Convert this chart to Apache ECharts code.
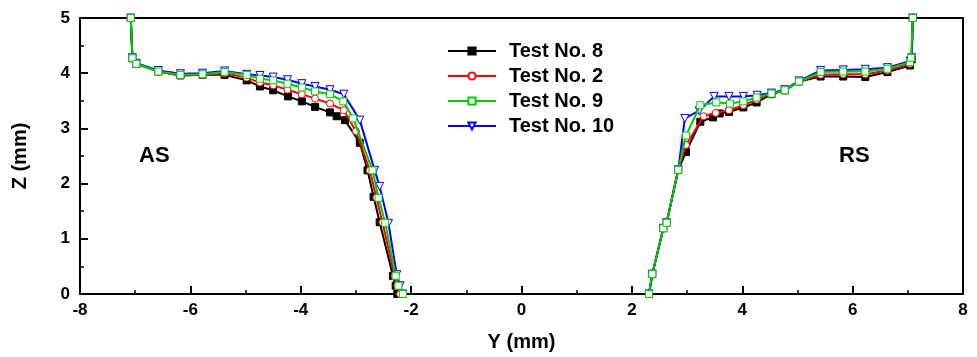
<!DOCTYPE html>
<html><head><meta charset="utf-8">
<script src="https://cdn.jsdelivr.net/npm/echarts@6/dist/echarts.min.js"></script>
<style>html,body{margin:0;padding:0;background:#fff}#c{width:977px;height:357px}</style>
</head><body><div id="c"></div>
<script>
// Test No. 8 (black)
const test8Y = [-7.08,-7.05,-6.98,-6.58,-6.18,-5.78,-5.38,-4.98,-4.74,-4.50,-4.23,-3.98,-3.74,-3.47,-3.35,-3.20,-2.93,-2.79,-2.68,-2.57,-2.33,-2.28,-2.25,
  null,
  2.31,2.37,2.57,2.63,2.84,2.98,3.24,3.47,3.59,3.76,4.02,4.26,4.53,4.77,5.03,5.42,5.83,6.23,6.63,7.04,7.07,7.09];
const test8Z = [5.0,4.27,4.17,4.03,3.96,3.97,3.97,3.87,3.76,3.69,3.58,3.49,3.39,3.29,3.22,3.15,2.74,2.24,1.76,1.30,0.33,0.15,0,
  null,
  0,0.36,1.19,1.29,2.25,2.57,3.12,3.20,3.27,3.30,3.38,3.47,3.62,3.69,3.85,3.94,3.94,3.93,4.02,4.14,4.25,5.0];
// Test No. 2 (red)
const test2Y = [-7.08,-7.05,-6.98,-6.58,-6.18,-5.78,-5.38,-4.98,-4.74,-4.50,-4.24,-3.98,-3.74,-3.47,-3.22,-3.00,-2.75,-2.63,-2.52,-2.30,-2.25,-2.20,
  null,
  2.31,2.37,2.57,2.63,2.84,2.98,3.30,3.52,3.76,4.02,4.26,4.53,4.77,5.03,5.42,5.83,6.23,6.63,7.04,7.07,7.09];
const test2Z = [5.0,4.27,4.17,4.03,3.96,3.97,4.00,3.92,3.83,3.78,3.70,3.62,3.54,3.45,3.33,2.95,2.24,1.75,1.30,0.33,0.15,0,
  null,
  0,0.36,1.19,1.29,2.25,2.70,3.22,3.28,3.33,3.42,3.52,3.63,3.69,3.85,3.97,3.98,3.98,4.05,4.17,4.27,5.0];
// Test No. 9 (green)
const test9Y = [-7.08,-7.05,-6.98,-6.58,-6.18,-5.78,-5.38,-4.98,-4.74,-4.50,-4.24,-3.98,-3.74,-3.47,-3.23,-3.05,-2.70,-2.59,-2.47,-2.28,-2.23,-2.15,
  null,
  2.31,2.37,2.57,2.63,2.84,2.98,3.24,3.53,3.78,4.02,4.26,4.53,4.77,5.03,5.42,5.83,6.23,6.63,7.04,7.06,7.09];
const test9Z = [5.0,4.27,4.17,4.03,3.97,3.98,4.02,3.97,3.90,3.87,3.81,3.74,3.67,3.62,3.49,3.18,2.24,1.74,1.29,0.33,0.15,0,
  null,
  0,0.36,1.19,1.29,2.25,2.87,3.42,3.47,3.45,3.49,3.56,3.63,3.69,3.85,4.02,4.03,4.03,4.08,4.20,4.28,5.0];
// Test No. 10 (blue)
const test10Y = [-7.08,-7.05,-6.98,-6.58,-6.18,-5.78,-5.38,-4.98,-4.74,-4.50,-4.24,-3.98,-3.74,-3.47,-3.22,-2.93,-2.66,-2.57,-2.41,-2.26,-2.20,-2.15,
  null,
  2.31,2.37,2.57,2.63,2.84,2.96,3.22,3.49,3.76,4.02,4.27,4.53,4.77,5.03,5.42,5.83,6.23,6.63,7.04,7.07,7.09];
const test10Z = [5.0,4.28,4.18,4.05,3.99,4.00,4.04,3.98,3.96,3.93,3.88,3.81,3.76,3.70,3.62,3.15,2.24,1.95,1.28,0.35,0.15,0,
  null,
  0,0.36,1.19,1.29,2.25,3.18,3.32,3.58,3.58,3.58,3.60,3.64,3.70,3.86,4.05,4.06,4.07,4.10,4.22,4.28,5.0];

const xTicks = [-8,-6,-4,-2,0,2,4,6,8];
const yTicks = [0,1,2,3,4,5];
const seriesNames = ['Test No. 8','Test No. 2','Test No. 9','Test No. 10'];

function zip(a,b){return a.map((v,i)=> v===null ? ['-','-'] : [v,b[i]]);}

const FONT = 'Liberation Sans, Arial, sans-serif';
const chart = echarts.init(document.getElementById('c'));
function mk(name, ys, zs, color, symbol, fill, z){
  return {name, type:'line', data: zip(ys,zs), connectNulls:false,
    symbol, symbolSize: symbol==='triangle'?8:7, symbolRotate: symbol==='triangle'?180:0,
    lineStyle:{color, width:2}, itemStyle:{color:fill, borderColor:color, borderWidth:1},
    color, z, animation:false};
}
chart.setOption({
  animation:false,
  grid:{left:80, right:14, top:18, bottom:61, show:true, borderColor:'#000', borderWidth:2},
  xAxis:{type:'value', min:-8, max:8, interval:2,
    name:'Y (mm)', nameLocation:'middle', nameGap:38,
    nameTextStyle:{fontFamily:FONT, fontWeight:'bold', fontSize:20, color:'#000'},
    axisLine:{onZero:false, lineStyle:{color:'#000', width:2}},
    axisTick:{inside:true, length:8, lineStyle:{color:'#000', width:2}},
    minorTick:{show:true, splitNumber:2, length:4, lineStyle:{color:'#000', width:1.5}},
    splitLine:{show:false},
    axisLabel:{fontFamily:FONT, fontWeight:'bold', fontSize:17, color:'#000', margin:8,
      formatter:v=> xTicks.includes(v) ? String(v) : ''}},
  yAxis:{type:'value', min:0, max:5, interval:1,
    name:'Z (mm)', nameLocation:'middle', nameGap:50, nameRotate:90,
    nameTextStyle:{fontFamily:FONT, fontWeight:'bold', fontSize:20, color:'#000'},
    axisLine:{onZero:false, lineStyle:{color:'#000', width:2}},
    axisTick:{inside:true, length:8, lineStyle:{color:'#000', width:2}},
    minorTick:{show:true, splitNumber:2, length:4, lineStyle:{color:'#000', width:1.5}},
    splitLine:{show:false},
    axisLabel:{fontFamily:FONT, fontWeight:'bold', fontSize:17, color:'#000', margin:10,
      formatter:v=> yTicks.includes(v) ? String(v) : ''}},
  legend:{orient:'vertical', left:442, top:36, itemWidth:48, itemHeight:9, itemGap:5,
    data:seriesNames,
    textStyle:{fontFamily:FONT, fontWeight:'bold', fontSize:20, color:'#000', lineHeight:20, padding:[0,0,0,8]}},
  graphic:[
    {type:'text', left:139, top:145, style:{text:'AS', font:'bold 22px '+FONT, fill:'#000'}},
    {type:'text', left:839, top:145, style:{text:'RS', font:'bold 22px '+FONT, fill:'#000'}}
  ],
  series:[
    mk('Test No. 8', test8Y, test8Z, '#000000', 'rect', '#000000', 2),
    mk('Test No. 2', test2Y, test2Z, '#ff0000', 'circle', '#ffffff', 3),
    mk('Test No. 10', test10Y, test10Z, '#0000ff', 'triangle', '#ffffff', 4),
    mk('Test No. 9', test9Y, test9Z, '#00cc00', 'rect', '#ffffff', 5)
  ]
});
</script></body></html>
